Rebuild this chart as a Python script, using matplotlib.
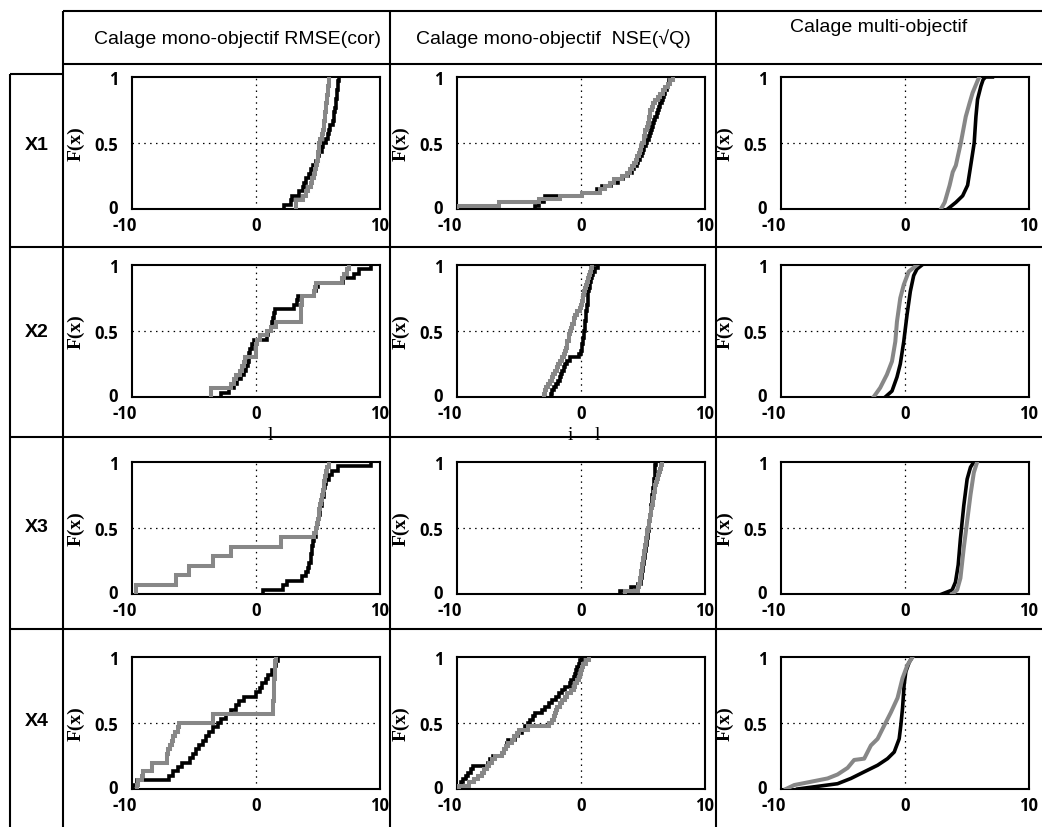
import numpy as np
import matplotlib
matplotlib.use("Agg")
import matplotlib.pyplot as plt
from matplotlib.lines import Line2D
from matplotlib.transforms import ScaledTranslation

W, H = 1042, 828

col_titles = ["Calage mono-objectif RMSE(cor)",
              "Calage mono-objectif  NSE(\u221aQ)",
              "Calage multi-objectif"]
row_labels = ["X1", "X2", "X3", "X4"]
x_ticks = [-10, 0, 10]
x_tick_labels = ["-10", "0", "10"]
y_ticks = [0, 0.5, 1]
y_tick_labels = ["0", "0.5", "1"]
y_label = "F(x)"

# ---- empirical samples (stepped CDFs) : RMSE(cor) column ----
x1_rmse_black = [2.23, 2.82, 2.9, 3.49, 3.76, 3.85, 4.0, 4.3, 4.45, 4.57, 4.84, 5.0, 5.1, 5.3, 5.38,
                 5.65, 5.8, 5.91, 6.0, 6.18, 6.25, 6.32, 6.38, 6.42, 6.45, 6.5, 6.55, 6.59, 6.65, 6.72]
x1_rmse_gray = [3.23, 3.23, 3.76, 4.03, 4.2, 4.44, 4.55, 4.7, 4.78, 4.85, 4.92, 4.97, 5.0, 5.05, 5.1,
                5.2, 5.3, 5.38, 5.45, 5.5, 5.55, 5.6, 5.65, 5.68, 5.72, 5.76, 5.8, 5.84, 5.88, 5.91]
x2_rmse_black = [-2.8, -2.15, -1.75, -1.5, -1.2, -1.0, -0.8, -0.67, -0.6, -0.55, -0.5, -0.3, -0.13, 0.9, 1.0,
                 1.2, 1.3, 1.4, 1.45, 1.5, 3.1, 3.3, 3.4, 4.7, 4.8, 5.0, 7.0, 7.9, 8.3, 9.3]
x2_rmse_gray = [-3.6, -3.6, -2.0, -1.8, -1.6, -1.3, -1.1, -1.0, -0.9, 0.0, 0.0, 0.0, 0.1, 0.3, 0.9,
                1.2, 1.6, 3.6, 3.6, 3.6, 3.65, 3.7, 3.7, 4.7, 4.75, 4.8, 6.9, 7.1, 7.3, 7.5]
x3_rmse_black = [0.6, 2.15, 2.5, 3.7, 4.0, 4.2, 4.3, 4.4, 4.45, 4.5, 4.55, 4.6, 4.7, 4.8, 4.85,
                 4.95, 5.0, 5.1, 5.15, 5.2, 5.3, 5.35, 5.45, 5.5, 5.6, 5.65, 5.9, 6.1, 6.6, 9.3]
x3_rmse_gray = [-9.68, -9.68, -6.45, -6.45, -5.38, -5.38, -3.5, -3.5, -2.0, -2.0, 2.0, 2.0, 4.7, 4.8,
                4.9, 4.97, 5.05, 5.1, 5.18, 5.24, 5.3, 5.38, 5.45, 5.52, 5.6, 5.65, 5.75, 5.9]
x4_rmse_black = [-9.9, -9.6, -7.0, -6.7, -6.3, -6.0, -5.3, -5.1, -4.8, -4.6, -4.3, -4.05, -3.8, -3.5, -3.1,
                 -2.8, -2.4, -2.0, -1.6, -1.35, -0.95, 0.0, 0.3, 0.5, 0.8, 1.0, 1.3, 1.5, 1.62, 1.76]
x4_rmse_gray = [-9.6, -9.5, -9.2, -9.1, -8.4, -8.4, -7.2, -7.2, -7.1, -6.9, -6.8, -6.7, -6.5, -6.3, -6.2,
                -3.5, -3.5, 1.35, 1.38, 1.4, 1.42, 1.44, 1.45, 1.46, 1.48, 1.5, 1.52, 1.54, 1.56, 1.6]

# ---- empirical samples (stepped CDFs) : NSE(sqrtQ) column ----
x1_nse_black = [-3.7, -3.4, -3.0, -2.9, 0.1, 1.3, 1.7, 2.4, 3.0, 3.4, 3.8, 4.1, 4.3, 4.5, 4.6, 4.75, 4.9,
                5.0, 5.1, 5.25, 5.35, 5.45, 5.55, 5.65, 5.75, 5.8, 5.9, 6.0, 6.1, 6.2, 6.3, 6.4, 6.5,
                6.6, 6.7, 6.8, 6.9, 7.0, 7.1, 7.3]
x1_nse_gray = [-10.0, -6.6, -3.4, -1.7, 0.1, 1.5, 1.9, 2.3, 2.7, 3.3, 3.7, 3.95, 4.15, 4.3, 4.45, 4.55,
               4.65, 4.75, 4.85, 4.95, 5.05, 5.1, 5.15, 5.2, 5.3, 5.4, 5.45, 5.5, 5.55, 5.6, 5.7, 5.8,
               6.0, 6.2, 6.4, 6.6, 6.8, 7.0, 7.2, 7.4]
x2_nse_black = [-2.4, -2.35, -2.2, -2.0, -1.84, -1.7, -1.6, -1.5, -1.4, -1.3, -1.1, -0.9, -0.2, 0.0, 0.05,
                0.1, 0.15, 0.2, 0.23, 0.26, 0.29, 0.32, 0.35, 0.38, 0.41, 0.44, 0.46, 0.5, 0.53, 0.56,
                0.58, 0.6, 0.65, 0.7, 0.76, 0.82, 0.88, 1.0, 1.14, 1.4]
x2_nse_gray = [-3.0, -2.9, -2.8, -2.65, -2.5, -2.35, -2.24, -2.1, -1.95, -1.84, -1.7, -1.5, -1.4, -1.3,
               -1.2, -1.15, -1.1, -1.0, -0.95, -0.9, -0.8, -0.7, -0.6, -0.55, -0.49, -0.3, -0.1, 0.0,
               0.08, 0.15, 0.19, 0.25, 0.32, 0.4, 0.46, 0.55, 0.62, 0.7, 0.78, 0.86]
x3_nse_black = [3.16, 4.0, 4.6, 4.8, 4.84, 4.88, 4.92, 4.97, 5.02, 5.06, 5.1, 5.14, 5.18, 5.22, 5.26,
                5.3, 5.34, 5.38, 5.42, 5.46, 5.49, 5.52, 5.55, 5.6, 5.62, 5.64, 5.67, 5.7, 5.73, 5.76,
                5.8, 5.84, 5.87, 5.89, 5.91, 5.93, 5.95, 5.97, 5.99, 6.02]
x3_nse_gray = [3.57, 4.6, 4.68, 4.74, 4.78, 4.82, 4.86, 4.9, 4.94, 4.98, 5.02, 5.06, 5.1, 5.14, 5.19,
               5.23, 5.27, 5.31, 5.35, 5.42, 5.46, 5.5, 5.54, 5.58, 5.62, 5.68, 5.72, 5.77, 5.82, 5.87,
               5.92, 5.96, 6.0, 6.05, 6.1, 6.2, 6.27, 6.35, 6.45, 6.54]
x4_nse_black = [-9.92, -9.7, -9.5, -9.3, -9.1, -8.9, -8.7, -7.5, -7.3, -7.1, -6.4, -6.2, -6.05, -5.95,
                -5.86, -5.3, -5.1, -4.78, -4.5, -4.3, -4.1, -3.9, -3.7, -3.16, -2.9, -2.6, -2.35, -2.0,
                -1.8, -1.54, -1.3, -0.9, -0.8, -0.6, -0.5, -0.42, -0.3, -0.19, -0.05, 0.1]
x4_nse_gray = [-9.8, -9.0, -8.6, -8.3, -8.0, -7.8, -7.6, -7.4, -7.2, -6.9, -6.4, -6.2, -6.05, -5.9, -5.6,
               -5.4, -5.2, -5.0, -4.3, -2.6, -2.35, -2.2, -2.1, -2.0, -1.95, -1.7, -1.5, -1.3, -1.1,
               -0.8, -0.6, -0.45, -0.35, -0.2, -0.1, 0.0, 0.1, 0.2, 0.4, 0.62]

# ---- smooth CDF curves (multi-objectif column): x values and cumulative frequencies ----
x1_multi_black_x = [3.44, 4.1, 4.65, 5.05, 5.3, 5.58, 5.72, 5.85, 6.12, 6.3, 6.5, 7.05]
x1_multi_black_f = [0.0, 0.05, 0.1, 0.18, 0.33, 0.5, 0.7, 0.83, 0.93, 0.98, 1.0, 1.0]
x1_multi_gray_x = [2.9, 3.2, 3.6, 3.85, 4.1, 4.5, 4.9, 5.2, 5.45, 5.98]
x1_multi_gray_f = [0.0, 0.05, 0.18, 0.28, 0.33, 0.5, 0.7, 0.8, 0.88, 1.0]
x2_multi_black_x = [-1.59, -1.05, -0.65, -0.38, -0.1, 0.16, 0.43, 0.7, 0.97, 1.37]
x2_multi_black_f = [0.0, 0.045, 0.15, 0.25, 0.42, 0.62, 0.8, 0.92, 0.97, 1.0]
x2_multi_gray_x = [-2.53, -2.0, -1.46, -1.05, -0.78, -0.65, -0.38, -0.1, 0.3, 0.97]
x2_multi_gray_f = [0.0, 0.07, 0.17, 0.27, 0.42, 0.57, 0.75, 0.85, 0.95, 1.0]
x3_multi_black_x = [2.99, 3.8, 4.07, 4.29, 4.47, 4.74, 5.01, 5.28, 5.55]
x3_multi_black_f = [0.0, 0.03, 0.09, 0.22, 0.42, 0.67, 0.87, 0.96, 1.0]
x3_multi_gray_x = [3.8, 4.2, 4.47, 4.74, 5.01, 5.28, 5.55, 5.82]
x3_multi_gray_f = [0.0, 0.03, 0.12, 0.35, 0.55, 0.75, 0.92, 1.0]
x4_multi_black_x = [-8.66, -7.05, -5.44, -4.36, -3.29, -2.21, -1.41, -0.87, -0.47, -0.34, -0.2, -0.07,
                    0.07, 0.34, 0.6]
x4_multi_black_f = [0.0, 0.02, 0.04, 0.08, 0.13, 0.18, 0.23, 0.28, 0.38, 0.48, 0.61, 0.79, 0.89, 0.96, 1.0]
x4_multi_gray_x = [-9.6, -8.93, -7.58, -6.24, -5.44, -4.63, -4.1, -3.29, -2.75, -2.21, -1.68, -1.14,
                   -0.6, -0.2, 0.2, 0.6]
x4_multi_gray_f = [0.0, 0.03, 0.055, 0.08, 0.11, 0.16, 0.22, 0.23, 0.33, 0.38, 0.48, 0.58, 0.69, 0.84,
                   0.94, 1.0]

stepped = {
    (0, 0): (x1_rmse_black, x1_rmse_gray), (1, 0): (x2_rmse_black, x2_rmse_gray),
    (2, 0): (x3_rmse_black, x3_rmse_gray), (3, 0): (x4_rmse_black, x4_rmse_gray),
    (0, 1): (x1_nse_black, x1_nse_gray), (1, 1): (x2_nse_black, x2_nse_gray),
    (2, 1): (x3_nse_black, x3_nse_gray), (3, 1): (x4_nse_black, x4_nse_gray),
}
smooth = {
    0: ((x1_multi_black_x, x1_multi_black_f), (x1_multi_gray_x, x1_multi_gray_f)),
    1: ((x2_multi_black_x, x2_multi_black_f), (x2_multi_gray_x, x2_multi_gray_f)),
    2: ((x3_multi_black_x, x3_multi_black_f), (x3_multi_gray_x, x3_multi_gray_f)),
    3: ((x4_multi_black_x, x4_multi_black_f), (x4_multi_gray_x, x4_multi_gray_f)),
}

BLACK = "#000000"
GRAY = "#878787"
LW_B, LW_G = 2.6, 2.9

fig = plt.figure(figsize=(W / 100, H / 100), dpi=100)
fig.patch.set_facecolor("white")


def fx(x):
    return x / W


def fy(y):
    return 1 - y / H


def hline(y, x0, x1, lw=1.5):
    fig.add_artist(Line2D([fx(x0), fx(x1)], [fy(y), fy(y)], transform=fig.transFigure,
                          color="k", lw=lw, solid_capstyle="butt"))


def vline(x, y0, y1, lw=1.5):
    fig.add_artist(Line2D([fx(x), fx(x)], [fy(y0), fy(y1)], transform=fig.transFigure,
                          color="k", lw=lw, solid_capstyle="butt"))


# table grid
hline(12, 63, W)
hline(65, 63, W)
hline(75, 10, 63)
for yy in [248, 438, 630]:
    hline(yy, 10, W)
vline(10, 75, H)
vline(63, 12, H)
vline(390, 12, H)
vline(716, 12, H)

# headers
HFS = 14
fig.text(fx(237), fy(39), col_titles[0], ha="center", va="center", fontsize=HFS,
         family="Liberation Sans")
fig.text(fx(553), fy(39), col_titles[1], ha="center", va="center", fontsize=HFS,
         family=["Liberation Sans", "DejaVu Sans"])
fig.text(fx(879), fy(28), col_titles[2], ha="center", va="center", fontsize=HFS,
         family="Liberation Sans")

row_tops = [78, 266, 463, 658]
col_lefts = [132, 457, 781]
AW, AH = 248, 132
row_label_y = [145, 333, 527, 722]

shift_left = ScaledTranslation(-7 / 100, 0, fig.dpi_scale_trans)
shift_up = ScaledTranslation(0, 3 / 100, fig.dpi_scale_trans)

for r in range(4):
    fig.text(fx(37), fy(row_label_y[r]), row_labels[r], ha="center", va="center",
             fontsize=14, fontweight="bold", family="Liberation Sans")
    for c in range(3):
        ax = fig.add_axes([fx(col_lefts[c]), fy(row_tops[r] + AH), AW / W, AH / H])
        ax.set_xlim(-10, 10)
        ax.set_ylim(0, 1)
        ax.axvline(0, color="k", lw=0.9, ls=(0, (1.2, 3.5)), zorder=1)
        ax.axhline(0.5, color="k", lw=0.9, ls=(0, (1.2, 3.5)), zorder=1)
        if c < 2:
            black, gray = stepped[(r, c)]
            for s, col, lw in [(black, BLACK, LW_B), (gray, GRAY, LW_G)]:
                srt = np.sort(np.asarray(s, dtype=float))
                n = len(srt)
                xs = np.concatenate([[srt[0]], srt])
                fs = np.concatenate([[0.0], np.arange(1, n + 1) / n])
                ax.plot(xs, fs, drawstyle="steps-post", color=col, lw=lw,
                        solid_joinstyle="miter", zorder=3, clip_on=True)
        else:
            (bx, bf), (gx, gf) = smooth[r]
            ax.plot(bx, bf, color=BLACK, lw=LW_B, zorder=3)
            ax.plot(gx, gf, color=GRAY, lw=LW_G, zorder=3)
        ax.set_xticks(x_ticks)
        ax.set_xticklabels(x_tick_labels)
        ax.set_yticks(y_ticks)
        ax.set_yticklabels(y_tick_labels)
        ax.tick_params(length=0, labelsize=12)
        ax.tick_params(axis="x", pad=5)
        ax.tick_params(axis="y", pad=10)
        for lab in ax.get_xticklabels() + ax.get_yticklabels():
            lab.set_family("Open Sans")
            lab.set_fontweight("bold")
        first = ax.get_xticklabels()[0]
        first.set_transform(first.get_transform() + shift_left)
        y0lab = ax.get_yticklabels()[0]
        y0lab.set_transform(y0lab.get_transform() + shift_up)
        for sp in ax.spines.values():
            sp.set_linewidth(1.5)
        ax.set_ylabel(y_label, family="Liberation Serif", fontweight="bold", fontsize=14)
        ax.yaxis.set_label_coords(-0.19, 0.5)

# stray glyphs present in the original figure
fig.text(fx(270), fy(436), "l", ha="center", va="center", fontsize=14, family="Liberation Serif")
fig.text(fx(570), fy(436), "i", ha="center", va="center", fontsize=14, family="Liberation Serif")
fig.text(fx(597), fy(436), "l", ha="center", va="center", fontsize=14, family="Liberation Serif")

fig.savefig("out.png", dpi=100, facecolor="white")
